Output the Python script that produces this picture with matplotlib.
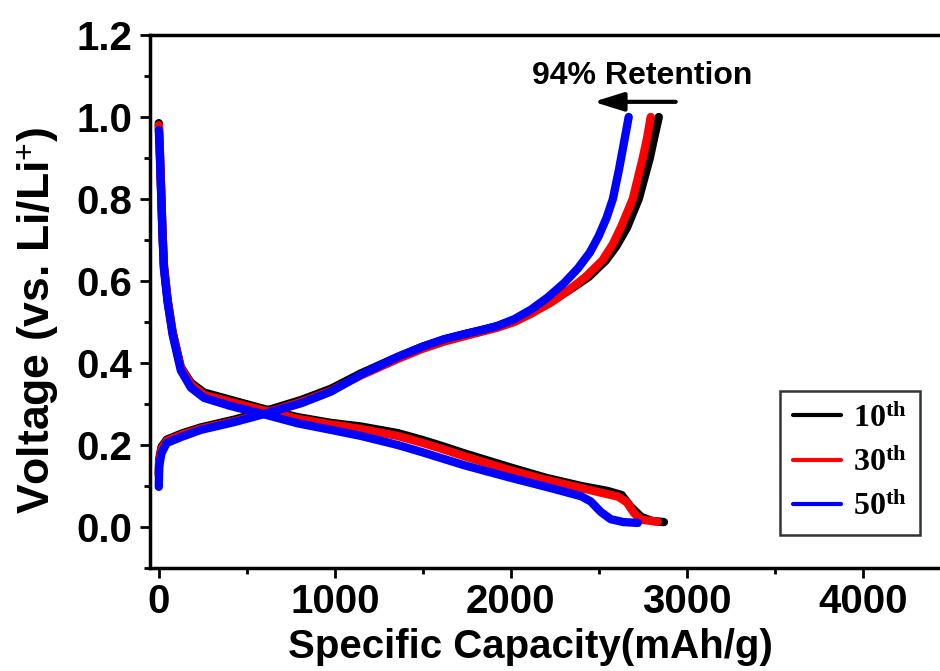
import matplotlib
matplotlib.use("Agg")
import matplotlib.pyplot as plt
from matplotlib.ticker import MultipleLocator

plt.rcParams['font.family'] = ['Liberation Sans', 'DejaVu Sans']
plt.rcParams['font.weight'] = 'bold'
plt.rcParams['mathtext.fontset'] = 'custom'
plt.rcParams['mathtext.rm'] = 'Liberation Serif:bold'
plt.rcParams['mathtext.bf'] = 'Liberation Serif:bold'
plt.rcParams['mathtext.it'] = 'Liberation Serif:bold'

# charge curves (capacity mAh/g, voltage V)
chg_x_10 = [0, 2, 15, 45, 130, 240, 430, 620, 810, 977, 1150, 1358, 1500, 1620, 1733, 1850, 1922, 2020, 2114, 2230, 2340, 2443, 2540, 2600, 2660, 2727, 2790, 2815, 2841]
chg_y_10 = [0.13, 0.165, 0.195, 0.213, 0.228, 0.243, 0.262, 0.285, 0.31, 0.337, 0.375, 0.415, 0.44, 0.457, 0.47, 0.482, 0.49, 0.505, 0.525, 0.55, 0.58, 0.61, 0.65, 0.685, 0.73, 0.8, 0.9, 0.95, 1.0]
chg_x_30 = [0, 2, 15, 45, 130, 240, 430, 620, 810, 977, 1150, 1358, 1500, 1620, 1733, 1850, 1922, 2020, 2114, 2230, 2330, 2425, 2520, 2580, 2630, 2693, 2750, 2775, 2795]
chg_y_30 = [0.125, 0.16, 0.19, 0.21, 0.225, 0.24, 0.258, 0.28, 0.305, 0.332, 0.37, 0.41, 0.435, 0.452, 0.465, 0.478, 0.486, 0.5, 0.52, 0.548, 0.578, 0.61, 0.65, 0.69, 0.735, 0.8, 0.9, 0.95, 1.0]
chg_x_50 = [0, 2, 15, 45, 130, 240, 430, 620, 810, 977, 1150, 1358, 1500, 1620, 1733, 1850, 1922, 2020, 2114, 2210, 2303, 2380, 2450, 2500, 2545, 2580, 2614, 2640, 2670]
chg_y_50 = [0.098, 0.147, 0.18, 0.205, 0.22, 0.237, 0.256, 0.278, 0.302, 0.33, 0.372, 0.415, 0.44, 0.458, 0.47, 0.482, 0.49, 0.507, 0.53, 0.56, 0.595, 0.63, 0.67, 0.71, 0.755, 0.8, 0.87, 0.93, 1.0]

# discharge curves
dis_x_10 = [0, 5, 15, 21, 29, 50, 79, 125, 182, 257, 409, 597, 788, 977, 1150, 1358, 1500, 1620, 1733, 1870, 2000, 2200, 2400, 2550, 2630, 2680, 2740, 2800, 2870]
dis_y_10 = [0.985, 0.93, 0.80, 0.72, 0.64, 0.555, 0.475, 0.39, 0.352, 0.328, 0.31, 0.288, 0.268, 0.254, 0.245, 0.229, 0.212, 0.196, 0.18, 0.162, 0.145, 0.12, 0.1, 0.088, 0.078, 0.05, 0.025, 0.015, 0.012]
dis_x_30 = [0, 5, 15, 21, 29, 50, 79, 125, 182, 257, 409, 597, 788, 977, 1150, 1358, 1500, 1620, 1733, 1870, 2000, 2200, 2400, 2520, 2610, 2660, 2700, 2740, 2835]
dis_y_30 = [0.98, 0.93, 0.80, 0.72, 0.635, 0.552, 0.472, 0.388, 0.348, 0.322, 0.305, 0.284, 0.264, 0.25, 0.239, 0.222, 0.205, 0.189, 0.173, 0.155, 0.138, 0.115, 0.095, 0.083, 0.074, 0.06, 0.034, 0.018, 0.013]
dis_x_50 = [0, 5, 15, 21, 29, 50, 79, 125, 182, 257, 409, 597, 788, 977, 1150, 1358, 1500, 1620, 1733, 1870, 2000, 2227, 2400, 2455, 2511, 2568, 2640, 2722]
dis_y_50 = [0.968, 0.92, 0.79, 0.71, 0.63, 0.548, 0.468, 0.382, 0.34, 0.315, 0.295, 0.275, 0.253, 0.237, 0.222, 0.2, 0.182, 0.166, 0.151, 0.135, 0.12, 0.095, 0.075, 0.062, 0.037, 0.019, 0.012, 0.01]

labels = ['10', '30', '50']
colors = ['#000000', '#ff0000', '#0000ff']

fig = plt.figure(figsize=(9.4, 6.71), dpi=100)
ax = fig.add_axes([150 / 940, 103 / 671, 799 / 940, 533 / 671])

series = [(chg_x_10, chg_y_10, dis_x_10, dis_y_10),
          (chg_x_30, chg_y_30, dis_x_30, dis_y_30),
          (chg_x_50, chg_y_50, dis_x_50, dis_y_50)]
handles = []
for i, (cx, cy, dx, dy) in enumerate(series):
    ax.plot(dx, dy, color=colors[i], lw=6, solid_capstyle='round', solid_joinstyle='round', zorder=2 + i)
    ln, = ax.plot(cx, cy, color=colors[i], lw=6, solid_capstyle='round', solid_joinstyle='round', zorder=2 + i)
    handles.append(ln)

ax.set_xlim(-50, 4490)
ax.set_ylim(-0.1, 1.2)
ax.xaxis.set_major_locator(MultipleLocator(1000))
ax.xaxis.set_minor_locator(MultipleLocator(500))
ax.yaxis.set_major_locator(MultipleLocator(0.2))
ax.yaxis.set_minor_locator(MultipleLocator(0.1))
ax.yaxis.set_major_formatter(plt.FuncFormatter(lambda v, p: f"{v:.1f}"))

for s in ax.spines.values():
    s.set_linewidth(2.5)
ax.tick_params(which='major', direction='out', length=7, width=2, labelsize=29, pad=4)
ax.tick_params(which='minor', direction='out', length=4, width=2)
ax.tick_params(axis='y', which='both', right=False)
ax.tick_params(axis='x', which='both', top=False)
ax.tick_params(axis='y', which='major', pad=6)

ax.set_xlabel('Specific Capacity(mAh/g)', fontsize=29, fontweight='bold', va='top')
ax.xaxis.set_label_coords((530 - 150) / 799, (568 - 628) / 533)
fig.text(38 / 940, 1 - 320 / 671, 'Voltage (vs. Li/Li$^{+}$)', rotation=90,
         ha='center', va='center', fontsize=32, fontweight='bold')

ax.text(2744, 1.1, '94% Retention', ha='center', va='center', fontsize=23, fontweight='bold')
ax.annotate('', xy=(2470, 1.037), xytext=(2937, 1.037),
            arrowprops=dict(arrowstyle='-|>,head_length=0.9,head_width=0.28', lw=3,
                            color='black', mutation_scale=20, shrinkA=0, shrinkB=0))

leg_labels = [l + r'$^{\mathbf{th}}$' for l in labels]
leg = ax.legend(handles, leg_labels, loc='lower right',
                bbox_to_anchor=(920 / 940, (671 - 535) / 671), bbox_transform=fig.transFigure,
                borderaxespad=0, frameon=True, fancybox=False, handlelength=1.5,
                handletextpad=0.4, borderpad=0.4, labelspacing=0.45,
                prop={'family': 'Liberation Serif', 'weight': 'bold', 'size': 23})
leg.get_frame().set_edgecolor('black')
leg.get_frame().set_linewidth(1.8)
for h in leg.legend_handles:
    h.set_linewidth(3)

fig.savefig('out.png', dpi=100)
